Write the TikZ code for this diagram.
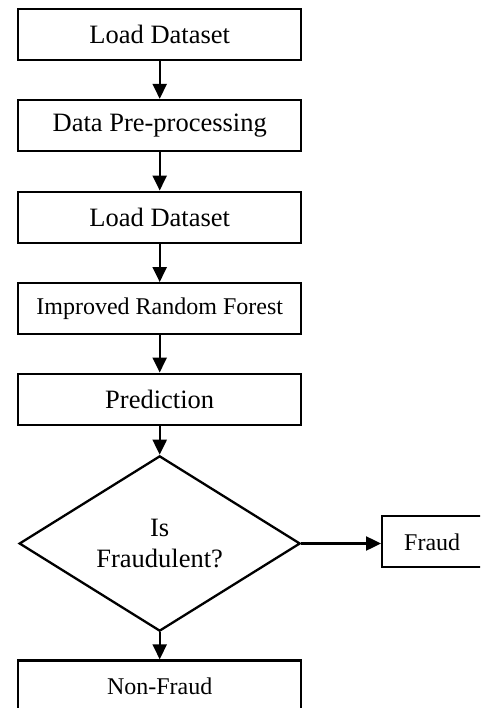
\documentclass[tikz,border=0pt]{standalone}
\usepackage{fontspec}
\setmainfont{Liberation Serif}
\usetikzlibrary{shapes.geometric,arrows.meta}

\tikzset{
  stepbox/.style={draw=black, line width=2.3pt, rectangle, inner sep=0pt,
    minimum width=283pt, minimum height=51pt, align=center,
    font=\fontsize{26.5}{31}\selectfont},
  smallbox/.style={stepbox, font=\fontsize{24}{29}\selectfont},
  decision/.style={draw=black, line width=2.3pt, diamond, inner sep=0pt,
    minimum width=281pt, minimum height=153pt, align=center,
    font=\fontsize{26.5}{31}\selectfont},
  flow/.style={draw=black, line width=2.2pt,
    -{Triangle[length=15pt,width=14pt]}}
}

\begin{document}
\begin{tikzpicture}[x=1pt, y=-1pt]
  \useasboundingbox (0,0) rectangle (480,708);
  \clip (0,0) rectangle (480,708);

  % main column of processing steps
  \node[stepbox]  (load1)   at (159.7, 34.8)  {Load Dataset};
  \node[stepbox]  (prep)    at (159.7, 125.5) {Data Pre-processing};
  \node[stepbox]  (load2)   at (159.7, 217.2) {Load Dataset};
  \node[smallbox] (irf)     at (159.7, 308.7) {Improved Random Forest};
  \node[stepbox]  (pred)    at (159.7, 399.2) {Prediction};
  \node[decision] (isfraud) at (159.7, 543.5) {Is\\Fraudulent?};
  \node[smallbox, minimum width=100pt] (fraud) at (432.2, 541.8) {Fraud};
  \node[smallbox] (nonfraud) at (159.7, 686) {Non-Fraud};

  % connectors
  \draw[flow] (load1) -- (prep);
  \draw[flow] (prep) -- (load2);
  \draw[flow] (load2) -- (irf);
  \draw[flow] (irf) -- (pred);
  \draw[flow] (pred) -- (isfraud.north);
  \draw[flow] (isfraud.east) -- (isfraud.east -| fraud.west);
  \draw[flow] (isfraud.south) -- (nonfraud);
\end{tikzpicture}
\end{document}
